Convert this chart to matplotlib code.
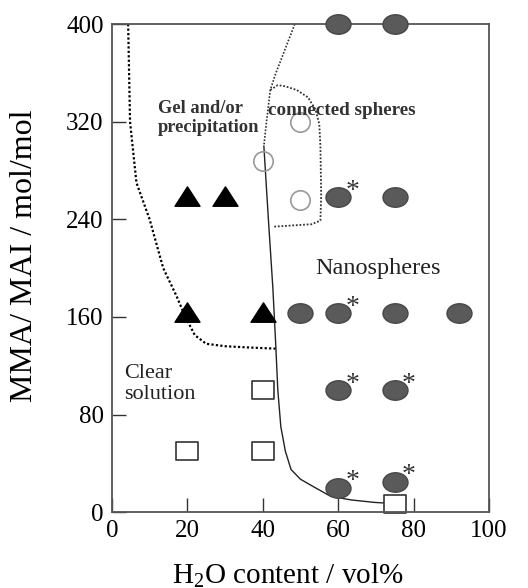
import matplotlib
matplotlib.use('Agg')
import matplotlib.pyplot as plt
from matplotlib.path import Path
from matplotlib.transforms import Affine2D

plt.rcParams['font.family'] = ['Liberation Serif', 'DejaVu Serif']
plt.rcParams['mathtext.fontset'] = 'custom'
plt.rcParams['mathtext.rm'] = 'Liberation Serif'

# nanospheres (filled ellipses), * marks the starred ones
nano_x = [60, 75, 60, 75, 50, 60, 75, 92, 60, 75, 60, 75]
nano_y = [400, 400, 258, 258, 163, 163, 163, 163, 100, 100, 20, 25]
nano_star = [0, 0, 1, 0, 0, 1, 0, 0, 1, 1, 1, 1]
# connected spheres (open circles)
conn_x = [50, 40, 50]
conn_y = [320, 288, 256]
# gel / precipitation (triangles)
gel_x = [20, 30, 20, 40]
gel_y = [258, 258, 163, 163]
# clear solution (open squares)
clear_x = [20, 40, 40, 75]
clear_y = [50, 50, 100, 7]

# phase boundaries
gel_bound_x = [4.3, 4.8, 6.5, 10, 13.6, 17, 19.5, 22, 25, 30, 36, 43.5]
gel_bound_y = [400, 320, 270, 240, 200, 178, 160, 145, 138, 136, 135, 134]
conn_left_x = [48.5, 46, 43.5, 42, 41, 40.3]
conn_left_y = [400, 380, 360, 346, 320, 300]
nano_bound_x = [40.3, 41.5, 42.7, 43.5, 44, 44.8, 46, 47.5, 50, 52.8, 58, 63.5, 69.6, 75]
nano_bound_y = [300, 240, 183, 134, 100, 70, 50, 35, 27, 22, 13, 10, 8, 7]
conn_box_x = [42, 44, 46, 49, 52, 54, 55, 55.3, 55.5, 55.3, 53, 48, 43]
conn_box_y = [346, 350, 349, 346, 340, 330, 318, 300, 260, 239, 236, 235, 234]

ellipse = Path.unit_circle().transformed(Affine2D().scale(1.0, 0.78))
rect = Path([(-1, -0.78), (1, -0.78), (1, 0.78), (-1, 0.78), (-1, -0.78)],
            [Path.MOVETO, Path.LINETO, Path.LINETO, Path.LINETO, Path.CLOSEPOLY])
tri = Path([(-1, -0.7), (1, -0.7), (0, 0.85), (-1, -0.7)],
           [Path.MOVETO, Path.LINETO, Path.LINETO, Path.CLOSEPOLY])

fig = plt.figure(figsize=(5.28, 5.88), dpi=100)
ax = fig.add_axes([0.212, 0.129, 0.714, 0.830])

ax.plot(gel_bound_x, gel_bound_y, color='black', ls=(0, (1, 1)), lw=1.6)
ax.plot(conn_left_x, conn_left_y, color='#333333', ls=(0, (1, 1)), lw=1.2)
ax.plot(nano_bound_x, nano_bound_y, color='#222222', lw=1.0)
ax.plot(conn_box_x, conn_box_y, color='#333333', ls=(0, (1, 1)), lw=1.3)

ax.plot(clear_x, clear_y, ls='none', marker=rect, ms=16, mfc='white', mec='#333333', mew=1.2, clip_on=False)
ax.plot(conn_x, conn_y, ls='none', marker='o', ms=14, mfc='none', mec='#999999', mew=1.2, clip_on=False)
ax.plot(gel_x, gel_y, ls='none', marker=tri, ms=18, mfc='black', mec='black', clip_on=False)
ax.plot(nano_x, nano_y, ls='none', marker=ellipse, ms=18, mfc='#5a5a5a', mec='#474747', mew=1, clip_on=False, zorder=5)
for x, y, s in zip(nano_x, nano_y, nano_star):
    if s:
        ax.text(x + 3.8, y - 0.5, '*', fontsize=20, ha='center', va='baseline', color='#333333')

ax.text(12.3, 323, 'Gel and/or\nprecipitation', fontsize=13.3, fontweight='bold', color='#333333',
        ha='left', va='center', linespacing=1.15)
ax.text(41.5, 329, 'connected spheres', fontsize=13.8, fontweight='bold', color='#333333', ha='left', va='center')
ax.text(54, 200, 'Nanospheres', fontsize=17.5, ha='left', va='center', color='#222222')
ax.text(3.2, 105, 'Clear\nsolution', fontsize=16, ha='left', va='center', color='#222222', linespacing=1.2)

ax.set_xlim(0, 100)
ax.set_ylim(0, 400)
ax.set_xticks([0, 20, 40, 60, 80, 100])
ax.set_yticks([0, 80, 160, 240, 320, 400])
ax.tick_params(direction='in', length=10, width=1, labelsize=18, color='#333333', pad=6)
for sp in ax.spines.values():
    sp.set_color('#555555')
    sp.set_linewidth(1.3)
ax.set_xlabel('H$_2$O content / vol%', fontsize=21, va='center')
ax.set_ylabel('MMA/ MAI / mol/mol', fontsize=23, va='center')
ax.xaxis.set_label_coords(0.467, -0.129)
ax.yaxis.set_label_coords(-0.233, 0.525)

fig.savefig('out.png', dpi=100)
